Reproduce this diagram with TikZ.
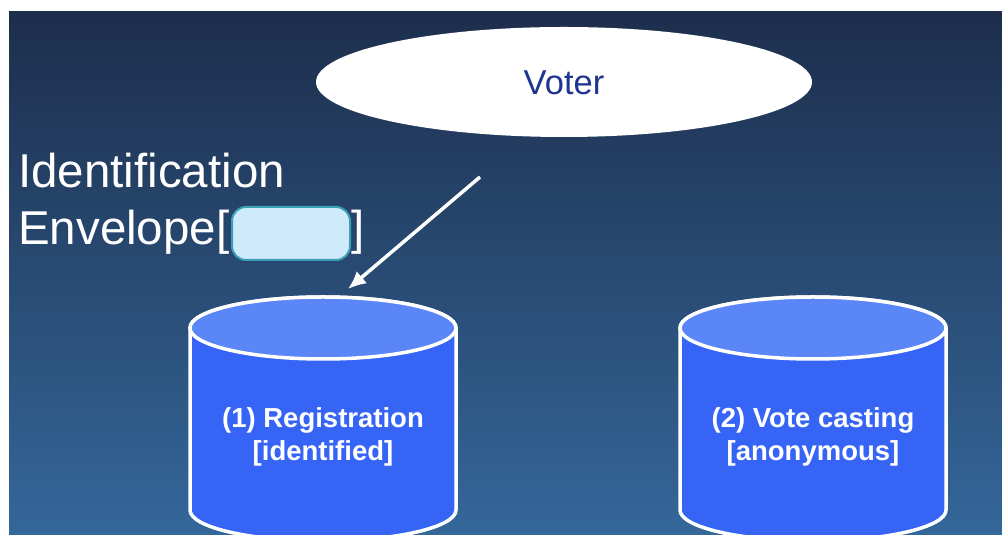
\documentclass[tikz,border=0pt]{standalone}
\usepackage{fontspec}
\setmainfont{Liberation Sans}
\usetikzlibrary{arrows.meta,shapes.geometric}
\definecolor{bgtop}{HTML}{1D2E4C}
\definecolor{bgbot}{HTML}{34679A}
\definecolor{cylbodyc}{HTML}{3665F5}
\definecolor{cyltopc}{HTML}{5A86F8}
\definecolor{votertext}{HTML}{1F3590}
\definecolor{envfill}{HTML}{CFEAFB}
\definecolor{envborder}{HTML}{3AA0B4}
\tikzset{
  cylbody/.style={fill=cylbodyc,draw=white,line width=3.5pt,line join=round},
  cyltop/.style={fill=cyltopc,draw=white,line width=3.5pt},
  bigtext/.style={text=white,font=\fontsize{47.5}{55}\selectfont,inner sep=0pt},
  cyltext/.style={text=white,font=\bfseries\fontsize{27.5}{33}\selectfont,align=center,inner sep=0pt},
  arrowline/.style={draw=white,line width=3.5pt,-{Latex[length=18pt,width=16pt]}}
}
\begin{document}
\begin{tikzpicture}[x=1pt,y=1pt]
\useasboundingbox (0,0) rectangle (1002,535);
\fill[white] (0,0) rectangle (1002,535);
\shade[top color=bgtop,bottom color=bgbot] (9,0) rectangle (1002,523);

% Voter
\node[ellipse,fill=white,minimum width=496pt,minimum height=110pt,inner sep=0pt] (voter) at (564,453) {};
\node[anchor=base,text=votertext,font=\fontsize{34.5}{40}\selectfont,inner sep=0pt] (votertxt) at (564,440) {Voter};

% Identification envelope
\node[bigtext,anchor=base west] (ident) at (18,347) {Identification};
\node[bigtext,anchor=base west] (env) at (18,290) {Envelope[};
\node[draw=envborder,fill=envfill,line width=2pt,rounded corners=14pt,minimum width=118pt,minimum height=53pt,inner sep=0pt] (envbox) at (291,301.5) {};
\node[bigtext,anchor=base west] (closebr) at (351,290) {]};

% Cylinder 1
\path[cylbody] (190,207) -- (190,25) arc[start angle=180,end angle=360,x radius=133,y radius=31] -- (456,207) arc[start angle=0,end angle=180,x radius=133,y radius=31] -- cycle;
\path[cyltop] (323,207) ellipse[x radius=133,y radius=31];
\node[cyltext,anchor=base] (reg) at (323,74) {(1) Registration\\{}[identified]};

% Cylinder 2
\path[cylbody] (680,207) -- (680,25) arc[start angle=180,end angle=360,x radius=133,y radius=31] -- (946,207) arc[start angle=0,end angle=180,x radius=133,y radius=31] -- cycle;
\path[cyltop] (813,207) ellipse[x radius=133,y radius=31];
\node[cyltext,anchor=base] (cast) at (813,74) {(2) Vote casting\\{}[anonymous]};

% Arrow
\coordinate (arrowstart) at (480,358);
\coordinate (arrowend) at (348,246);
\draw[arrowline] (arrowstart) -- (arrowend);
\end{tikzpicture}
\end{document}
